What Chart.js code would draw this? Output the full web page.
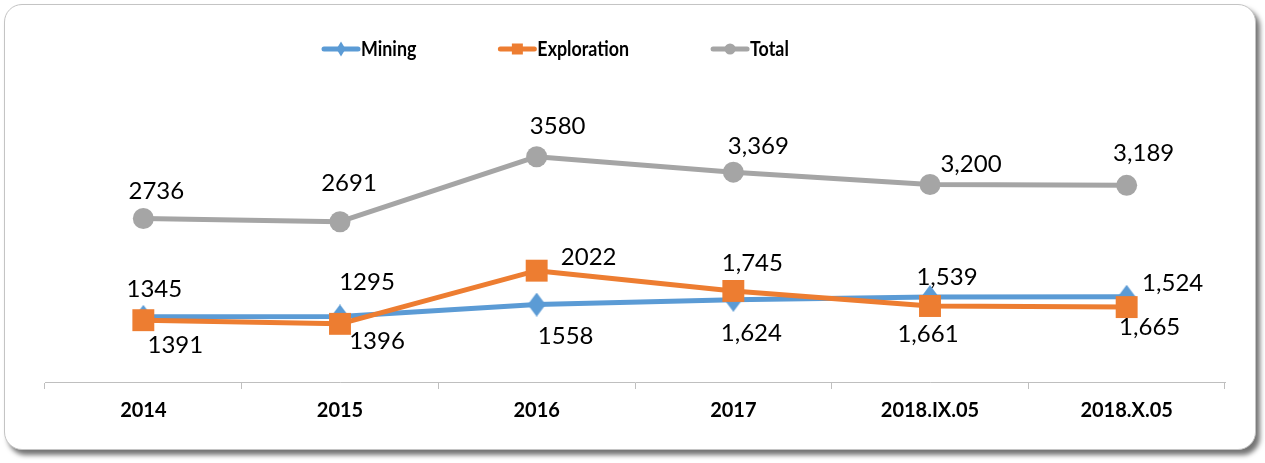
<!DOCTYPE html>
<html><head><meta charset="utf-8">
<script src="https://cdn.jsdelivr.net/npm/chart.js@4.4.1/dist/chart.umd.min.js"></script>
<style>
html,body{margin:0;padding:0;background:#fff;width:1265px;height:463px;overflow:hidden;}
#frame{position:absolute;left:4px;top:4px;width:1250px;height:444px;border:1px solid #c4c4c4;border-radius:18px;box-shadow:4px 5px 5px rgba(0,0,0,0.55);background:#fff;}
#wrap{position:absolute;left:0;top:0;width:1265px;height:463px;}
</style></head><body>
<div id="frame"></div>
<div id="wrap"><canvas id="c" width="1265" height="463"></canvas></div>
<script>
// ---- data ----
const categories = ['2014', '2015', '2016', '2017', '2018.IX.05', '2018.X.05'];
const mining = [1391, 1396, 1558, 1624, 1661, 1665];
const exploration = [1345, 1295, 2022, 1745, 1539, 1524];
const total = [2736, 2691, 3580, 3369, 3200, 3189];
const useThousandsSeparator = [false, false, false, true, true, true];

// ---- label placement (pixel offsets from each point) ----
const miningLabelOffsets = [[32, 28], [37, 24], [29, 31], [18, 33], [-2, 36], [23, 30]];
const explorationLabelOffsets = [[11, -32], [27, -42], [52, -14], [19, -29], [17, -30], [46, -25]];
const totalLabelOffsets = [[13, -28], [9, -39], [21, -31], [25, -27], [41, -21], [17, -33]];

const COLORS = { mining: '#5B9BD5', exploration: '#ED7D31', total: '#A5A5A5' };
const FONT = 'Lato, "Open Sans", sans-serif';

function fmt(v, i) {
  return useThousandsSeparator[i] ? v.toLocaleString('en-US') : String(v);
}

function diamondImage(w, h, color) {
  const c = document.createElement('canvas');
  c.width = w; c.height = h;
  const g = c.getContext('2d');
  g.fillStyle = color;
  g.beginPath();
  g.moveTo(w / 2, 0); g.lineTo(w, h / 2); g.lineTo(w / 2, h); g.lineTo(0, h / 2);
  g.closePath(); g.fill();
  return c;
}

const labelPlugin = {
  id: 'pointLabels',
  afterDatasetsDraw(chart) {
    const ctx = chart.ctx;
    ctx.save();
    ctx.font = '24px ' + FONT;
    ctx.fillStyle = '#000';
    ctx.textAlign = 'center';
    ctx.textBaseline = 'alphabetic';
    chart.data.datasets.forEach((ds, di) => {
      const meta = chart.getDatasetMeta(di);
      meta.data.forEach((pt, i) => {
        const off = ds.labelOffsets[i];
        ctx.fillText(fmt(ds.data[i], i), pt.x + off[0], pt.y + off[1] + 8.6);
      });
    });
    ctx.restore();
  }
};

const legendPlugin = {
  id: 'customLegend',
  afterDraw(chart) {
    const ctx = chart.ctx;
    ctx.save();
    ctx.font = 'bold 21px ' + FONT;
    ctx.textBaseline = 'alphabetic';
    ctx.textAlign = 'left';
    const squeeze = 0.85;
    let x = 322;
    const y = 49;
    chart.data.datasets.forEach((ds) => {
      ctx.strokeStyle = ds.borderColor;
      ctx.fillStyle = ds.borderColor;
      ctx.lineWidth = 5;
      ctx.lineCap = 'round';
      ctx.beginPath(); ctx.moveTo(x + 2, y); ctx.lineTo(x + 36, y); ctx.stroke();
      const cx = x + 19;
      ctx.beginPath();
      if (ds.legendShape === 'diamond') {
        ctx.moveTo(cx, y - 7.5); ctx.lineTo(cx + 4.5, y); ctx.lineTo(cx, y + 7.5); ctx.lineTo(cx - 4.5, y); ctx.closePath();
      } else if (ds.legendShape === 'square') {
        ctx.rect(cx - 5.5, y - 5.5, 11, 11);
      } else {
        ctx.arc(cx, y, 5.5, 0, Math.PI * 2);
      }
      ctx.fill();
      ctx.fillStyle = '#000';
      ctx.save();
      ctx.translate(x + 39, y + 7);
      ctx.scale(squeeze, 1);
      ctx.fillText(ds.label, 0, 0);
      ctx.restore();
      x += 39 + ctx.measureText(ds.label).width * squeeze + 82;
    });
    ctx.restore();
  }
};

new Chart(document.getElementById('c'), {
  type: 'line',
  data: {
    labels: categories,
    datasets: [
      { label: 'Mining', data: mining, labelOffsets: miningLabelOffsets, order: 3, legendShape: 'diamond',
        borderColor: COLORS.mining, backgroundColor: COLORS.mining, borderWidth: 5,
        pointStyle: diamondImage(18, 24, COLORS.mining), pointRadius: 10, pointBorderWidth: 0, pointBackgroundColor: COLORS.mining },
      { label: 'Exploration', data: exploration, labelOffsets: explorationLabelOffsets, order: 2, legendShape: 'square',
        borderColor: COLORS.exploration, backgroundColor: COLORS.exploration, borderWidth: 5,
        pointStyle: 'rect', pointRadius: 15.5, pointBorderWidth: 0, pointBackgroundColor: COLORS.exploration },
      { label: 'Total', data: total, labelOffsets: totalLabelOffsets, order: 1, legendShape: 'circle',
        borderColor: COLORS.total, backgroundColor: COLORS.total, borderWidth: 5,
        pointStyle: 'circle', pointRadius: 10.5, pointBorderWidth: 0, pointBackgroundColor: COLORS.total }
    ]
  },
  options: {
    responsive: false,
    animation: false,
    devicePixelRatio: 1,
    clip: false,
    layout: { padding: { left: 45, right: 40, top: 126, bottom: 30 } },
    elements: { line: { tension: 0, borderJoinStyle: 'round' } },
    plugins: { legend: { display: false }, tooltip: { enabled: false } },
    scales: {
      x: {
        offset: true,
        grid: { display: true, offset: true, drawOnChartArea: false, drawTicks: true, tickLength: 7, color: '#bfbfbf' },
        border: { display: true, color: '#bfbfbf', width: 1 },
        ticks: { color: '#000', padding: 10, font: { family: FONT, size: 20, weight: 'bold' }, maxRotation: 0, autoSkip: false }
      },
      y: { display: false, min: 500, max: 4000 }
    }
  },
  plugins: [labelPlugin, legendPlugin]
});
</script>
</body></html>
